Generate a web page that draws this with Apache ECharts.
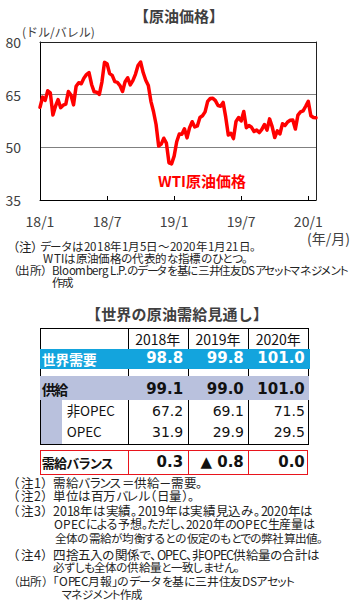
<!DOCTYPE html>
<html><head><meta charset="utf-8">
<script src="https://cdn.jsdelivr.net/npm/echarts@6/dist/echarts.min.js"></script>
<style>
@font-face{font-family:"NotoTight";src:local("Noto Sans CJK JP"),local("Noto Sans CJK JP Regular"),local("NotoSansCJKjp-Regular"),local("Noto Sans CJK JP-Regular");font-weight:400;ascent-override:93%;descent-override:7%;line-gap-override:0%;}
html,body{margin:0;padding:0;background:#fff;}
#wrap{position:relative;width:359px;height:606px;overflow:hidden;font-family:"Noto Sans CJK JP",sans-serif;color:#222;}
#chart{position:absolute;left:0;top:0;width:359px;height:606px;}
#ov{position:absolute;left:0;top:0;width:359px;height:606px;}
.t{position:absolute;white-space:nowrap;}
.p{font-feature-settings:"palt";}
.nt{font-family:"NotoTight","Noto Sans CJK JP",sans-serif;}
.ln{position:absolute;}
.num{font-family:"DejaVu Sans","Noto Sans CJK JP",sans-serif;}
</style></head><body>
<div id="wrap"><div id="chart"></div><div id="ov"></div></div>
<script>
// ---- data ----
const weekDates = [
'2018-01-05','2018-01-12','2018-01-19','2018-01-26','2018-02-02','2018-02-09','2018-02-16','2018-02-23',
'2018-03-02','2018-03-09','2018-03-16','2018-03-23','2018-03-29','2018-04-06','2018-04-13','2018-04-20','2018-04-27',
'2018-05-04','2018-05-11','2018-05-18','2018-05-25','2018-06-01','2018-06-08','2018-06-15','2018-06-22','2018-06-29',
'2018-07-06','2018-07-13','2018-07-20','2018-07-27','2018-08-03','2018-08-10','2018-08-17','2018-08-24','2018-08-31',
'2018-09-07','2018-09-14','2018-09-21','2018-09-28','2018-10-05','2018-10-12','2018-10-19','2018-10-26',
'2018-11-02','2018-11-09','2018-11-16','2018-11-23','2018-11-30','2018-12-07','2018-12-14','2018-12-21','2018-12-28',
'2019-01-04','2019-01-11','2019-01-18','2019-01-25','2019-02-01','2019-02-08','2019-02-15','2019-02-22',
'2019-03-01','2019-03-08','2019-03-15','2019-03-22','2019-03-29','2019-04-05','2019-04-12','2019-04-18','2019-04-26',
'2019-05-03','2019-05-10','2019-05-17','2019-05-24','2019-05-31','2019-06-07','2019-06-14','2019-06-21','2019-06-28',
'2019-07-05','2019-07-12','2019-07-19','2019-07-26','2019-08-02','2019-08-09','2019-08-16','2019-08-23','2019-08-30',
'2019-09-06','2019-09-13','2019-09-20','2019-09-27','2019-10-04','2019-10-11','2019-10-18','2019-10-25',
'2019-11-01','2019-11-08','2019-11-15','2019-11-22','2019-11-29','2019-12-06','2019-12-13','2019-12-20','2019-12-27',
'2020-01-03','2020-01-10','2020-01-17','2020-01-21'];
const wtiPrice = [
61.4,64.3,63.4,66.1,65.5,59.2,61.7,63.6,
61.3,62.0,62.3,65.9,64.9,62.1,67.4,68.4,68.1,
69.7,70.7,71.3,67.9,65.8,65.7,65.1,68.6,74.2,
73.8,71.0,70.5,68.7,68.5,67.6,65.9,68.7,69.8,
67.8,69.0,70.8,73.3,74.3,71.3,69.1,67.6,
63.1,60.2,56.5,50.4,50.9,52.6,51.2,45.6,45.3,
47.5,51.6,53.8,53.7,55.3,52.7,55.6,57.3,
55.8,56.1,58.5,59.0,60.1,63.1,63.9,64.0,63.3,
61.9,61.7,62.8,58.6,53.5,54.0,52.5,57.4,58.5,
57.5,60.2,55.6,56.2,55.7,54.5,54.9,54.2,55.1,
56.5,54.9,58.1,55.9,52.8,54.7,53.8,56.7,
56.2,57.2,57.7,57.8,55.2,59.2,60.1,60.4,61.7,
63.1,59.0,58.5,58.4];
const tickLabelDates = ['2018-01-05','2018-07-06','2019-01-04','2019-07-05','2020-01-03'];
const yTicks = [35, 50, 65, 80];

const tableYears = ['2018年','2019年','2020年'];
const worldDemand = [98.8, 99.8, 101.0];
const totalSupply = [99.1, 99.0, 101.0];
const nonOpecSupply = [67.2, 69.1, 71.5];
const opecSupply = [31.9, 29.9, 29.5];
const supplyDemandBalance = [0.3, -0.8, 0.0];

const rowLabels = ['世界需要','供給','非OPEC','OPEC','需給バランス'];

const topNotes = [
  ['（注）','データは2018年1月5日～2020年1月21日。'],
  ['','WTIは原油価格の代表的な指標のひとつ。'],
  ['（出所）','Bloomberg L.P.のデータを基に三井住友DSアセットマネジメント'],
  ['','作成']
];
const bottomNotes = [
  ['（注1）','需給バランス＝供給－需要。'],
  ['（注2）','単位は百万バレル（日量）。'],
  ['（注3）','2018年は実績。2019年は実績見込み。2020年は'],
  ['','OPECによる予想。ただし、2020年のOPEC生産量は'],
  ['','全体の需給が均衡するとの仮定のもとでの弊社算出値。'],
  ['（注4）','四捨五入の関係で、OPEC、非OPEC供給量の合計は'],
  ['','必ずしも全体の供給量と一致しません。'],
  ['（出所）','「OPEC月報」のデータを基に三井住友DSアセット'],
  ['','マネジメント作成']
];

// ---- chart ----
const FONT = '"Noto Sans CJK JP", sans-serif';
const chart = echarts.init(document.getElementById('chart'), null, {renderer:'svg', width:359, height:606});
const showTick = (i, v) => tickLabelDates.indexOf(v) >= 0;
chart.setOption({
  animation:false,
  grid:{left:40, top:42, right:43, bottom:406, containLabel:false},
  xAxis:[{
    type:'category', data:weekDates, boundaryGap:false,
    axisLine:{lineStyle:{color:'#000', width:1}},
    axisTick:{show:true, inside:true, length:4, interval:showTick, lineStyle:{color:'#000'}},
    axisLabel:{interval:showTick, formatter:v => v.slice(2,4)+'/'+(+v.slice(5,7)), fontSize:14, color:'#404040', margin:13.5, fontFamily:FONT},
    splitLine:{show:false}
  },{
    type:'category', data:weekDates, boundaryGap:false, position:'top',
    axisLine:{lineStyle:{color:'#222', width:1}}, axisTick:{show:false}, axisLabel:{show:false}
  }],
  yAxis:[{
    type:'value', min:yTicks[0], max:yTicks[yTicks.length-1], interval:15,
    axisLine:{show:true, lineStyle:{color:'#000'}}, axisTick:{show:false},
    axisLabel:{fontSize:14, color:'#404040', margin:19, fontFamily:FONT},
    splitLine:{show:true, lineStyle:{color:'#808080', width:1}}
  },{
    type:'value', position:'right', min:yTicks[0], max:yTicks[yTicks.length-1], interval:15,
    axisLine:{show:true, lineStyle:{color:'#222'}}, axisTick:{show:false}, axisLabel:{show:false}, splitLine:{show:false}
  }],
  series:[{
    type:'line', data:wtiPrice, xAxisIndex:0, yAxisIndex:0, symbol:'none', showSymbol:false,
    lineStyle:{color:'#ff0000', width:3.5, cap:'round', join:'round'}, itemStyle:{color:'#ff0000'}, z:5
  }],
  graphic:[
    {type:'text', x:179, y:15, style:{text:'【原油価格】', fill:'#404040', font:'bold 15px '+FONT, textAlign:'center', textVerticalAlign:'middle', verticalAlign:'middle'}},
    {type:'text', x:22, y:31, style:{text:'(ドル/バレル)', fill:'#404040', font:'12px '+FONT, textAlign:'left', textVerticalAlign:'middle', verticalAlign:'middle'}},
    {type:'text', x:202, y:180, style:{text:'WTI原油価格', fill:'#ff0000', font:'bold 15px '+FONT, textAlign:'center', textVerticalAlign:'middle', verticalAlign:'middle'}},
    {type:'text', x:350, y:238, style:{text:'(年/月)', fill:'#404040', font:'14px '+FONT, textAlign:'right', textVerticalAlign:'middle', verticalAlign:'middle'}}
  ]
});

// ---- overlay (notes + table) ----
const ov = document.getElementById('ov');
function txt(s, x, cy, fs, css, cls){
  const d = document.createElement('div');
  d.className = 't ' + (cls||'');
  d.textContent = s;
  d.style.fontSize = fs + 'px';
  d.style.height = fs + 'px';
  d.style.lineHeight = fs + 'px';
  d.style.left = x + 'px';
  d.style.top = (cy - fs/2) + 'px';
  if (css) Object.assign(d.style, css);
  ov.appendChild(d); return d;
}
function rtxt(s, xr, cy, fs, css, cls){
  const d = txt(s, 0, cy, fs, css, cls);
  const w = d.getBoundingClientRect().width;
  d.style.left = (xr - w) + 'px'; return d;
}
function ctxt(s, xc, cy, fs, css, cls){
  const d = txt(s, 0, cy, fs, css, cls);
  const w = d.getBoundingClientRect().width;
  d.style.left = (xc - w/2) + 'px'; return d;
}
// fit a text between x0 and x1: a little font scaling, rest by letter spacing
function fit(d, x0, x1){
  d.style.left = x0 + 'px';
  const n = [...d.textContent].length;
  let w = d.getBoundingClientRect().width;
  const target = x1 - x0;
  const r = target / w;
  if (r < 0.93 || r > 1.07) {
    const fs = parseFloat(d.style.fontSize) * Math.sqrt(r);
    d.style.fontSize = fs + 'px';
    w = d.getBoundingClientRect().width;
  }
  if (n > 1) d.style.letterSpacing = ((target - w) / (n - 1)).toFixed(3) + 'px';
  return d;
}
function box(x, y, w, h, color){
  const d = document.createElement('div');
  d.className = 'ln';
  Object.assign(d.style, {left:x+'px', top:y+'px', width:w+'px', height:h+'px', background:color});
  ov.appendChild(d); return d;
}

function buildOverlay(){
  // top notes
  const topNoteY = [246.5, 258.5, 270.5, 283];
  const topLabelX = [[12.5, 37], null, [12.5, 46], null];
  const topBodyX = [[39.5, 255.5], [43.3, 247], [51.7, 348.5], [51.7, 73.5]];
  topNotes.forEach((n, i) => {
    if (n[0]) fit(txt(n[0], 0, topNoteY[i], 11.5, null, 'p nt'), topLabelX[i][0], topLabelX[i][1]);
    fit(txt(n[1], 0, topNoteY[i], 11.5, null, 'p nt'), topBodyX[i][0], topBodyX[i][1]);
  });

  // table title
  fit(txt('【世界の原油需給見通し】', 0, 313, 15, {fontWeight:'bold', color:'#404040'}), 86, 268);

  // table grid
  const X = [40, 127.7, 187.7, 248.3, 308.3];
  const TOP = 328, BOT = 443.5;
  box(X[0], TOP, X[4]-X[0]+1, 1, '#000');
  X.forEach(x => box(x, TOP, 1, BOT-TOP, '#000'));
  box(X[0], BOT, X[4]-X[0]+1, 1, '#000');
  const BLUE = '#13a4dd', GRAY = '#b9c1dd';
  box(X[0], 348.5, X[4]-X[0]+1.5, 20, BLUE);
  box(X[0], 376, X[4]-X[0]+1, 24, GRAY);
  box(X[0]+0.5, 400, 21.5, BOT-400, GRAY);

  const colR = [X[2]-4.5, X[3]-4.5, X[4]-3.5];
  const fmt = v => v.toFixed(1);
  const fmtBal = v => v < 0 ? '▲ ' + Math.abs(v).toFixed(1) : v.toFixed(1);

  tableYears.forEach((y, i) => ctxt(y, (X[i+1]+X[i+2])/2, 338.5, 14, {color:'#111'}));
  fit(txt(rowLabels[0], 0, 358.5, 14, {fontWeight:'bold', color:'#fff'}), 41.7, 96.7);
  worldDemand.forEach((v, i) => rtxt(fmt(v), colR[i], 358.5, 15, {fontWeight:'bold', color:'#fff'}, 'num'));
  fit(txt(rowLabels[1], 0, 389, 14, {fontWeight:'bold', color:'#111'}), 41.7, 68.3);
  totalSupply.forEach((v, i) => rtxt(fmt(v), colR[i], 389, 15, {fontWeight:'bold', color:'#111'}, 'num'));
  fit(txt(rowLabels[2], 0, 410.5, 13.5, {color:'#111'}), 66.7, 115);
  nonOpecSupply.forEach((v, i) => rtxt(fmt(v), colR[i], 410.5, 14, {color:'#111'}, 'num'));
  fit(txt(rowLabels[3], 0, 432, 13.5, {color:'#111'}), 66.7, 101.7);
  opecSupply.forEach((v, i) => rtxt(fmt(v), colR[i], 432, 14, {color:'#111'}, 'num'));

  // balance row (red box)
  const RED = '#e8141c';
  const RT = 450, RB = 473.5;
  box(X[0], RT, X[4]-X[0], 1, RED);
  box(X[0], RB, X[4]-X[0], 1, RED);
  [X[0], X[1], X[2], X[3], X[4]-1].forEach(x => box(x, RT, 1, RB-RT+1, RED));
  fit(txt(rowLabels[4], 0, 462, 13, {fontWeight:'bold', color:'#111'}, 'p'), 41.7, 113.3);
  supplyDemandBalance.forEach((v, i) => rtxt(fmtBal(v), colR[i], 462, 15, {fontWeight:'bold', color:'#111'}, 'num'));

  // bottom notes
  const botNoteY = [483.5, 496.5, 511.5, 524.5, 538.5, 555.5, 567.5, 581, 594.5];
  const botLabelX = [[13.3, 48.3], [13.3, 48.3], [13.3, 48.3], null, null, [13.3, 48.3], null, [13.3, 47.7], null];
  const botBodyX = [[53.3, 203.3], [53.3, 195], [53.3, 313.3], [54.3, 315], [55, 323.3], [53.3, 320], [53.3, 240], [53.3, 295], [61.7, 141.7]];
  bottomNotes.forEach((n, i) => {
    if (n[0]) fit(txt(n[0], 0, botNoteY[i], 12.5, null, 'p nt'), botLabelX[i][0], botLabelX[i][1]);
    fit(txt(n[1], 0, botNoteY[i], 12.5, null, 'p nt'), botBodyX[i][0], botBodyX[i][1]);
  });
}

const ready = (document.fonts && document.fonts.load)
  ? Promise.all([document.fonts.load('12px "NotoTight"', 'あ')]).catch(() => null)
  : Promise.resolve();
ready.then(buildOverlay, buildOverlay);
</script>
</body></html>
